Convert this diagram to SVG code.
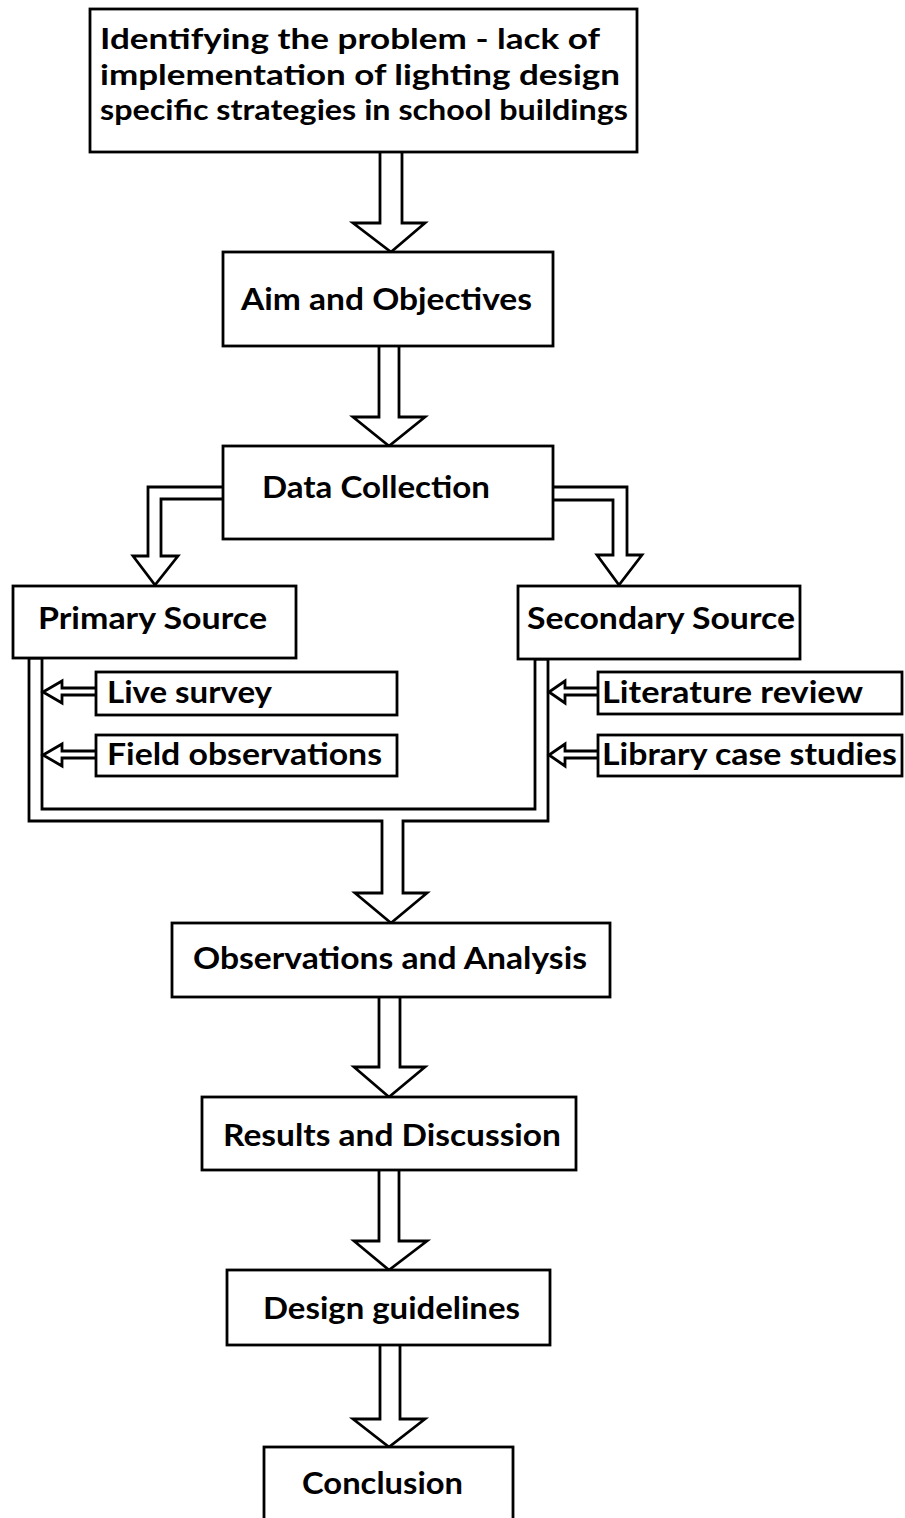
<svg xmlns="http://www.w3.org/2000/svg" width="905" height="1518" viewBox="0 0 905 1518">
<style>
.box{fill:#fff;stroke:#000;stroke-width:2.8}
.arr{fill:#fff;stroke:#000;stroke-width:2.8;stroke-linejoin:miter}
.t{font-family:Lato,"Open Sans","Liberation Sans",sans-serif;font-weight:bold;fill:#000}
.big{font-size:30px}
.top{font-size:29px}
</style>
<rect width="905" height="1518" fill="#fff"/>
<g id="connectors">
<path class="arr" d="M380,151 V223 H353 L391,252 L425,223 H402 V151"/>
<path class="arr" d="M379,345 V417 H353 L389,446 L425,417 H399 V345"/>
<path class="arr" d="M224,487 H148 V556 H133 L155,585 L178,556 H161 V499 H224"/>
<path class="arr" d="M552,487 H627 V555 H642 L619,585 L597,555 H613 V500 H552"/>
<path class="arr" d="M29,658 V821 H382 V893 H355 L391,923 L427,893 H403 V821 H548 V659 H535 V809 H42 V658 Z"/>
<path class="arr" d="M379,996 V1067 H354 L389,1097 L425,1067 H400 V996"/>
<path class="arr" d="M379,1169 V1241 H354 L389,1270 L427,1241 H399 V1169"/>
<path class="arr" d="M380,1344 V1419 H353 L389,1447 L425,1419 H400 V1344"/>
<path class="arr" d="M97,688 H62 V681 L43,692 L62,703 V695 H97"/>
<path class="arr" d="M97,751 H62 V744 L43,755 L62,766 V758 H97"/>
<path class="arr" d="M599,688 H565 V681 L549,692 L565,703 V695 H599"/>
<path class="arr" d="M599,751 H565 V744 L549,755 L565,766 V758 H599"/>
</g>
<g id="n-problem">
<rect class="box" x="90" y="9" width="547" height="143"/>
<text class="t top" x="100" y="49" textLength="500" lengthAdjust="spacingAndGlyphs">Identifying the problem - lack of</text>
<text class="t top" x="100" y="85" textLength="520" lengthAdjust="spacingAndGlyphs">implementation of lighting design</text>
<text class="t top" x="100" y="120" textLength="528" lengthAdjust="spacingAndGlyphs">specific strategies in school buildings</text>
</g>
<g id="n-aim">
<rect class="box" x="223" y="252" width="330" height="94"/>
<text class="t big" x="241" y="310" textLength="291" lengthAdjust="spacingAndGlyphs">Aim and Objectives</text>
</g>
<g id="n-data">
<rect class="box" x="223" y="446" width="330" height="93"/>
<text class="t big" x="262" y="498" textLength="228" lengthAdjust="spacingAndGlyphs">Data Collection</text>
</g>
<g id="n-primary">
<rect class="box" x="13" y="586" width="283" height="72"/>
<text class="t big" x="38" y="629" textLength="229" lengthAdjust="spacingAndGlyphs">Primary Source</text>
</g>
<g id="n-secondary">
<rect class="box" x="518" y="586" width="282" height="73"/>
<text class="t big" x="527" y="629" textLength="268" lengthAdjust="spacingAndGlyphs">Secondary Source</text>
</g>
<g id="n-live">
<rect class="box" x="96" y="672" width="301" height="43"/>
<text class="t big" x="107" y="703" textLength="165" lengthAdjust="spacingAndGlyphs">Live survey</text>
</g>
<g id="n-field">
<rect class="box" x="96" y="735" width="301" height="41"/>
<text class="t big" x="107" y="765" textLength="275" lengthAdjust="spacingAndGlyphs">Field observations</text>
</g>
<g id="n-lit">
<rect class="box" x="598" y="672" width="304" height="42"/>
<text class="t big" x="602" y="703" textLength="261" lengthAdjust="spacingAndGlyphs">Literature review</text>
</g>
<g id="n-lib">
<rect class="box" x="598" y="735" width="304" height="41"/>
<text class="t big" x="602" y="765" textLength="295" lengthAdjust="spacingAndGlyphs">Library case studies</text>
</g>
<g id="n-obs">
<rect class="box" x="172" y="923" width="438" height="74"/>
<text class="t big" x="193" y="969" textLength="394" lengthAdjust="spacingAndGlyphs">Observations and Analysis</text>
</g>
<g id="n-results">
<rect class="box" x="202" y="1097" width="374" height="73"/>
<text class="t big" x="223" y="1146" textLength="338" lengthAdjust="spacingAndGlyphs">Results and Discussion</text>
</g>
<g id="n-design">
<rect class="box" x="227" y="1270" width="323" height="75"/>
<text class="t big" x="263" y="1319" textLength="257" lengthAdjust="spacingAndGlyphs">Design guidelines</text>
</g>
<g id="n-conclusion">
<rect class="box" x="264" y="1447" width="249" height="90"/>
<text class="t big" x="302" y="1494" textLength="161" lengthAdjust="spacingAndGlyphs">Conclusion</text>
</g>
</svg>
